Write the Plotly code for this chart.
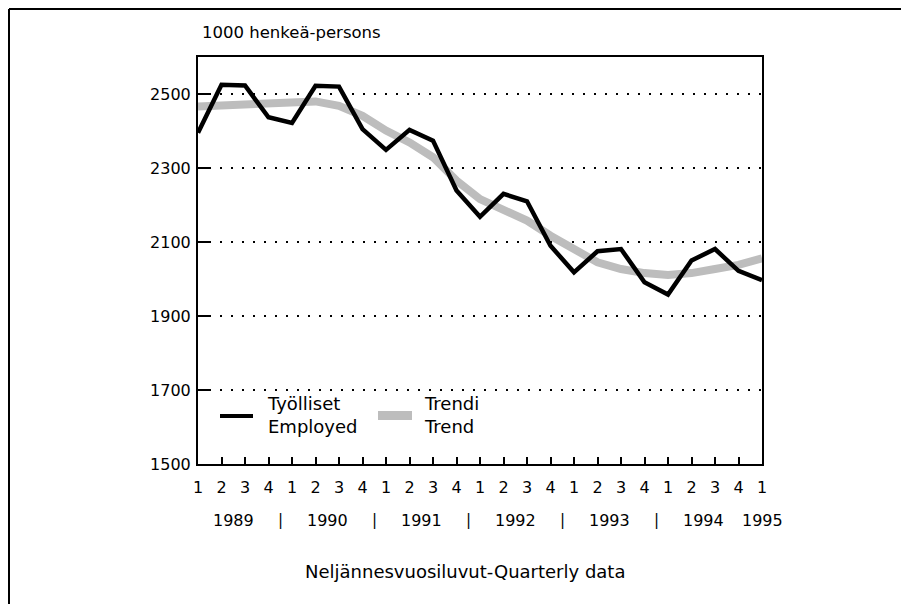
import plotly.graph_objects as go

# quarterly data 1989Q1 .. 1995Q1, 1000 persons
quarters = ["1", "2", "3", "4"] * 6 + ["1"]
years = ["1989", "1990", "1991", "1992", "1993", "1994", "1995"]
year_pos = [1.5, 5.5, 9.5, 13.5, 17.5, 21.5, 24]
sep_pos = [3.5, 7.5, 11.5, 15.5, 19.5]

employed = [2395, 2525, 2523, 2437, 2422, 2522, 2520, 2405, 2349, 2403, 2374, 2239, 2168,
            2230, 2210, 2090, 2018, 2075, 2081, 1991, 1958, 2050, 2081, 2022, 1997]
trend = [2466, 2468, 2470, 2472, 2477, 2480, 2468, 2441, 2401, 2369, 2329, 2266, 2216,
         2185, 2158, 2117, 2081, 2045, 2027, 2016, 2011, 2016, 2027, 2038, 2056]

x = list(range(len(employed)))
FONT = "DejaVu Sans, Liberation Sans, Arial, sans-serif"
TREND_COL = "#bdbdbd"

# the page body has an 8px margin, so page pixels are shifted by OFF
OFF = 8
W, H = 909 - OFF, 604 - OFF
L, R, T, B = 198 - OFF, 762 - OFF, 57 - OFF, 464 - OFF
def px(xp): return (xp - OFF - L) / (R - L)
def py(yp): return (B - (yp - OFF)) / (B - T)

fig = go.Figure()
fig.add_trace(go.Scatter(x=x, y=trend, mode="lines", line=dict(color=TREND_COL, width=8),
                         hoverinfo="skip"))
fig.add_trace(go.Scatter(x=x, y=employed, mode="lines", line=dict(color="black", width=4.5)))

fig.update_xaxes(range=[0, 24], tickvals=x, ticktext=quarters, ticks="inside", ticklen=7,
                 tickwidth=2, tickcolor="black", showline=True, linecolor="black", linewidth=2,
                 mirror=True, showgrid=False, zeroline=False, ticklabelstandoff=8,
                 tickfont=dict(size=16, color="black", family=FONT))
fig.update_yaxes(range=[1500, 2600], tickvals=[1500, 1700, 1900, 2100, 2300, 2500],
                 ticks="inside", ticklen=12, tickwidth=2, tickcolor="black", showline=True,
                 linecolor="black", linewidth=2, mirror=True, showgrid=True, gridcolor="black",
                 gridwidth=2, griddash="2px,9px", zeroline=False, ticklabelstandoff=2,
                 tickfont=dict(size=16, color="black", family=FONT))

def note(text, xv, yv, xref="paper", size=16, xanchor="center"):
    return dict(x=xv, y=yv, xref=xref, yref="paper", text=text, showarrow=False,
                xanchor=xanchor, yanchor="middle", align="left",
                font=dict(size=size, color="black", family=FONT))

ann = []
for yr, p in zip(years, year_pos):
    ann.append(note(yr, p, py(520), xref="x"))
for p in sep_pos:
    ann.append(note("|", p, py(520), xref="x", size=15))
ann.append(note("Neljännesvuosiluvut-Quarterly data", px(465), py(571), size=18))
ann.append(note("1000 henkeä-persons", px(200), py(33), size=16.5, xanchor="left"))
# legend
ann.append(note("Työlliset<br>Employed", px(265), py(415), size=18, xanchor="left"))
ann.append(note("Trendi<br>Trend", px(422), py(415), size=18, xanchor="left"))

shapes = [
    dict(type="line", xref="paper", yref="paper", x0=px(220), x1=px(253), y0=py(416), y1=py(416),
         line=dict(color="black", width=4)),
    dict(type="rect", xref="paper", yref="paper", x0=px(378), x1=px(412), y0=py(411), y1=py(420),
         fillcolor=TREND_COL, line=dict(width=0)),
    # outer frame (top and left)
    dict(type="line", xref="paper", yref="paper", x0=px(9), x1=px(909), y0=py(9), y1=py(9),
         line=dict(color="black", width=2)),
    dict(type="line", xref="paper", yref="paper", x0=px(9), x1=px(9), y0=py(9), y1=py(604),
         line=dict(color="black", width=2)),
]

fig.update_layout(width=W, height=H, margin=dict(l=L, r=W - R, t=T, b=H - B),
                  paper_bgcolor="white", plot_bgcolor="white", showlegend=False,
                  annotations=ann, shapes=shapes, font=dict(family=FONT, color="black"))
fig.write_html("out.html")
